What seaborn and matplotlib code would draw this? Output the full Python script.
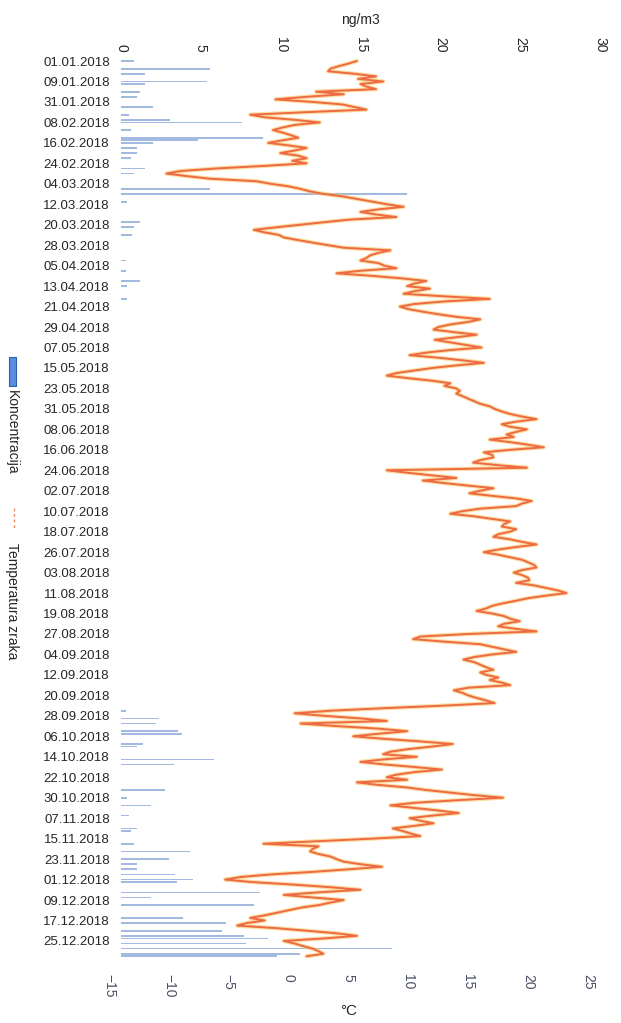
import numpy as np
import pandas as pd
import matplotlib
matplotlib.use("Agg")
import matplotlib.pyplot as plt
from matplotlib.patches import Rectangle
from matplotlib.lines import Line2D
import seaborn as sns

# ── Podaci (očitano sa slike) ───────────────────────────────────────────────
# siječanj ima rupu u mjerenjima: 10.01.–30.01. samo nekoliko dana
SIJECANJ = ["01.01.2018", "02.01.2018", "03.01.2018", "04.01.2018",
            "05.01.2018", "06.01.2018", "07.01.2018", "08.01.2018",
            "09.01.2018", "10.01.2018", "11.01.2018", "12.01.2018",
            "15.01.2018", "22.01.2018", "29.01.2018", "30.01.2018"]

TICK_LABELS = ["01.01.2018", "09.01.2018", "31.01.2018", "08.02.2018", "16.02.2018",
               "24.02.2018", "04.03.2018", "12.03.2018", "20.03.2018", "28.03.2018",
               "05.04.2018", "13.04.2018", "21.04.2018", "29.04.2018", "07.05.2018",
               "15.05.2018", "23.05.2018", "31.05.2018", "08.06.2018", "16.06.2018",
               "24.06.2018", "02.07.2018", "10.07.2018", "18.07.2018", "26.07.2018",
               "03.08.2018", "11.08.2018", "19.08.2018", "27.08.2018", "04.09.2018",
               "12.09.2018", "20.09.2018", "28.09.2018", "06.10.2018", "14.10.2018",
               "22.10.2018", "30.10.2018", "07.11.2018", "15.11.2018", "23.11.2018",
               "01.12.2018", "09.12.2018", "17.12.2018", "25.12.2018"]

# temperatura zraka, °C (jedan redak = 8 mjerenja, od oznake do oznake)
TEMP = [
    5.7, 5.0, 4.2, 3.5, 3.3, 5.5, 7.3, 5.8,          # 01.01
    7.9, 6.0, 6.5, 7.3, 2.3, 4.6, 1.5, -1.1,         # 09.01
    2.0, 4.5, 5.5, 6.5, 1.5, -3.2, -2.0, 0.5,        # 31.01
    2.6, 0.5, -0.5, -1.3, -0.5, 0.2, 0.8, -0.5,      # 08.02
    -1.7, 0.0, 1.5, 0.5, -0.7, 0.8, 1.5, 0.3,        # 16.02
    1.5, -2.0, -6.0, -9.0, -10.2, -8.5, -6.6, -2.7,  # 24.02
    -1.5, 0.0, 1.0, 1.8, 3.0, 4.6, 5.8, 7.0,         # 04.03
    8.2, 9.6, 7.5, 6.0, 7.3, 9.0, 5.1, 3.0,          # 12.03
    1.0, -1.0, -2.9, -2.0, -0.8, -0.4, 0.8, 2.0,     # 20.03
    3.3, 4.6, 8.5, 7.5, 6.8, 6.5, 6.0, 7.5,          # 28.03
    8.0, 9.0, 6.0, 4.0, 7.0, 9.5, 11.5, 10.5,        # 05.04
    9.9, 11.8, 10.5, 9.6, 13.0, 16.8, 13.0, 10.5,    # 13.04
    9.3, 10.0, 11.2, 12.5, 14.0, 16.0, 15.0, 13.5,   # 21.04
    12.5, 12.1, 13.8, 15.7, 14.0, 12.2, 13.5, 14.8,  # 29.04
    16.1, 13.5, 11.5, 10.1, 12.5, 14.5, 16.3, 14.0,  # 07.05
    12.0, 10.5, 9.0, 8.2, 10.0, 12.0, 13.5, 13.0,    # 15.05
    14.0, 14.3, 14.0, 14.5, 15.0, 15.5, 16.0, 16.8,  # 23.05
    17.2, 17.8, 18.5, 19.5, 20.7, 19.0, 17.8, 18.5,  # 31.05
    19.9, 19.0, 18.2, 18.8, 16.8, 18.5, 20.0, 21.3,  # 08.06
    18.5, 16.3, 17.0, 17.1, 16.0, 15.4, 17.5, 19.9,  # 16.06
    8.2, 10.0, 12.0, 14.0, 11.2, 13.0, 15.0, 17.1,   # 24.06
    16.0, 15.1, 17.0, 19.0, 20.3, 19.5, 19.0, 16.0,  # 02.07
    14.5, 13.5, 15.5, 17.0, 18.5, 18.0, 17.8, 19.0,  # 10.07
    18.5, 17.5, 17.1, 18.5, 19.5, 20.7, 19.0, 17.5,  # 18.07
    16.3, 17.5, 18.5, 19.5, 20.0, 20.5, 20.7, 19.5,  # 26.07
    18.8, 19.5, 20.0, 20.1, 19.0, 20.5, 21.5, 22.5,  # 03.08
    23.2, 21.5, 20.0, 19.0, 17.9, 17.0, 16.5, 15.7,  # 11.08
    17.0, 18.0, 18.5, 19.3, 18.0, 17.5, 19.0, 20.7,  # 19.08
    15.0, 11.0, 10.4, 13.0, 16.0, 17.0, 18.0, 19.0,  # 27.08
    17.0, 15.5, 14.6, 15.5, 16.0, 16.5, 17.1, 16.0,  # 04.09
    16.5, 17.5, 16.8, 17.8, 18.5, 15.0, 13.8, 14.5,  # 12.09
    15.0, 15.7, 16.5, 17.2, 13.0, 8.0, 3.5, 0.5,     # 20.09
    3.0, 6.0, 8.2, 1.0, 4.0, 7.5, 9.9, 7.5,          # 28.09
    5.4, 8.0, 11.0, 13.7, 12.0, 10.0, 8.5, 7.9,      # 06.10
    10.7, 8.0, 6.0, 8.0, 10.5, 12.8, 10.5, 9.0,      # 14.10
    8.2, 9.9, 5.7, 7.5, 9.9, 11.5, 13.5, 15.5,       # 22.10
    17.9, 14.0, 10.5, 8.5, 10.5, 12.5, 14.2, 12.0,   # 30.10
    10.1, 11.0, 12.1, 10.5, 8.7, 9.5, 10.2, 11.0,    # 07.11
    7.0, 2.5, -2.1, 2.5, 2.0, 1.8, 2.5, 3.5,         # 15.11
    4.0, 4.6, 6.0, 7.8, 5.0, 2.0, -1.5, -4.0,        # 23.11
    -5.3, -3.0, 0.5, 3.5, 6.0, 2.5, -0.4, 2.0,       # 01.12
    4.6, 3.5, 2.5, 1.0, 0.0, -1.0, -2.0, -3.2,       # 09.12
    -2.0, -3.5, -4.3, -1.0, 1.5, 4.0, 5.7, 3.0,      # 17.12
    -0.4, 0.5, 1.2, 2.0, 2.5, 2.9, 1.5,              # 25.12
]

# koncentracija, ng/m3 (samo dani s vidljivim stupcem; ostalo 0)
KONC_IDX = [0, 3, 5, 8, 9, 12, 14, 18, 21, 23, 24, 27, 30, 31, 32, 34, 36, 38, 42, 44,
            50, 52, 55, 63, 65, 68, 78, 82, 86, 88, 93,
            254, 257, 259, 262, 263, 267, 268, 273, 275, 285, 288, 291, 295, 300,
            301, 306, 309, 312, 314, 316, 318, 320, 321, 325, 327, 330, 335, 337,
            340, 342, 343, 345, 347, 349, 350]
KONC_VAL = [0.8, 5.6, 1.5, 5.4, 1.5, 1.2, 1.0, 2.0, 0.5, 3.1, 7.6, 0.6, 8.9, 4.8, 2.0, 1.0, 1.0, 0.6, 1.5, 0.8,
            5.6, 17.9, 0.4, 1.2, 0.8, 0.7, 0.3, 0.3, 1.2, 0.4, 0.4,
            0.3, 2.4, 2.2, 3.6, 3.8, 1.4, 1.0, 5.8, 3.3, 2.75, 0.4, 1.9, 0.5, 1.0,
            0.6, 0.8, 4.3, 3.0, 1.0, 1.0, 3.4, 4.5, 3.5, 8.7, 1.9, 8.3, 3.9, 6.6,
            6.3, 7.7, 9.2, 7.8, 17.0, 11.2, 9.8]

dani = SIJECANJ + [d.strftime("%d.%m.%Y") for d in pd.date_range("2018-01-31", "2018-12-31")]
n = len(dani)
assert len(TEMP) == n, (len(TEMP), n)
konc = np.zeros(n)
konc[KONC_IDX] = KONC_VAL
df = pd.DataFrame({"dan": dani, "idx": np.arange(n), "konc": konc, "temp": TEMP})

# ── Crtanje ─────────────────────────────────────────────────────────────────
sns.set_theme(style="white")
plt.rcParams["font.family"] = ["Liberation Sans", "DejaVu Sans"]

W, H = 621, 1023
top_px, bot_px = 55, 962
fig = plt.figure(figsize=(W / 100, H / 100), dpi=100)
ax = fig.add_axes([121 / W, 1 - bot_px / H, 479 / W, (bot_px - top_px) / H])
ax2 = fig.add_axes([109 / W, 1 - bot_px / H, 479 / W, (bot_px - top_px) / H], sharey=ax)
ax2.patch.set_alpha(0)

sns.barplot(data=df, x="konc", y="idx", orient="h", native_scale=True,
            color="#7fa6e6", width=0.65, edgecolor="none", alpha=0.8, ax=ax)

sns.lineplot(data=df, x="temp", y="idx", orient="y", errorbar=None,
             color="#f8c050", lw=3.0, alpha=0.55, ax=ax2)
sns.lineplot(data=df, x="temp", y="idx", orient="y", errorbar=None,
             color="#ee6a45", lw=1.4, ax=ax2)

# gornja os: koncentracija
ax.set_xlim(0, 30)
ax.set_xticks(range(0, 31, 5))
ax.xaxis.tick_top()
ax.xaxis.set_label_position("top")
ax.set_xlabel("ng/m3", fontsize=10, labelpad=9)
ax.tick_params(axis="x", labelrotation=-90, length=0, pad=2, labelsize=10)
ax.set_yticks(range(0, 345, 8))
ax.set_yticklabels(TICK_LABELS)
ax.tick_params(axis="y", length=0, pad=8, labelsize=9.5)
ax.set_ylabel("")

# donja os: temperatura
ax2.set_xlim(-15, 25)
ax2.set_xticks(range(-15, 26, 5))
ax2.xaxis.tick_bottom()
ax2.set_xlabel("°C", fontsize=11, labelpad=4)
ax2.tick_params(axis="x", labelrotation=-90, length=0, pad=9, labelsize=10, labelcolor="#4a4f66")
ax2.tick_params(axis="y", left=False, labelleft=False)
ax2.set_ylabel("")

ax.set_ylim((bot_px - 61) / 2.558, (top_px - 61) / 2.558)
for a in (ax, ax2):
    for s in a.spines.values():
        s.set_visible(False)

# legenda (okomita, lijevo)
fig.patches.append(Rectangle((9 / W, 1 - 386 / H), 7 / W, 29 / H, transform=fig.transFigure,
                             facecolor="#5b8ee0", edgecolor="#2f5fb0", lw=0.8))
fig.text(12 / W, 1 - 390 / H, "Koncentracija", rotation=-90, ha="center", va="top", fontsize=10)
fig.lines.append(Line2D([14 / W, 14 / W], [1 - 508 / H, 1 - 530 / H], transform=fig.transFigure,
                        color="#f08a5d", lw=1, ls=(0, (2, 2))))
fig.text(12 / W, 1 - 543 / H, "Temperatura zraka", rotation=-90, ha="center", va="top", fontsize=10)

fig.savefig("out.png", dpi=100)
plt.close()
